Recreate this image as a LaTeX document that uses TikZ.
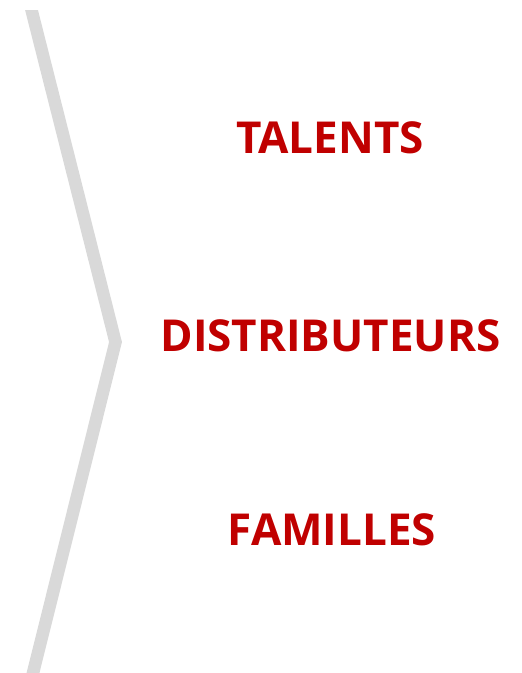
\documentclass[tikz,border=0pt]{standalone}
\usepackage{fontspec}
\setmainfont{Open Sans}
\usetikzlibrary{positioning}
\definecolor{chevgray}{HTML}{D9D9D9}
\definecolor{labelred}{HTML}{C00000}

\begin{document}
\begin{tikzpicture}[x=1pt,y=-1pt,
  label/.style={font=\fontsize{44}{48}\selectfont\bfseries, text=labelred, inner sep=0pt, anchor=center},
  chevron/.style={draw=chevgray, line width=12.5pt, miter limit=10}]

  \useasboundingbox (0,0) rectangle (522,673);

  \coordinate (top) at (30,4);
  \coordinate (tip) at (115.5,342);
  \coordinate (bot) at (32,677);

  \node[label] (talents) at (330,138) {TALENTS};
  \node[label] (distri) at (330.5,336) {DISTRIBUTEURS};
  \node[label] (familles) at (332,530) {FAMILLES};

  % gray chevron, cut flat at the top
  \begin{scope}
    \clip (0,10) rectangle (522,673);
    \draw[chevron] (top) -- (tip) -- (bot);
  \end{scope}

\end{tikzpicture}
\end{document}
